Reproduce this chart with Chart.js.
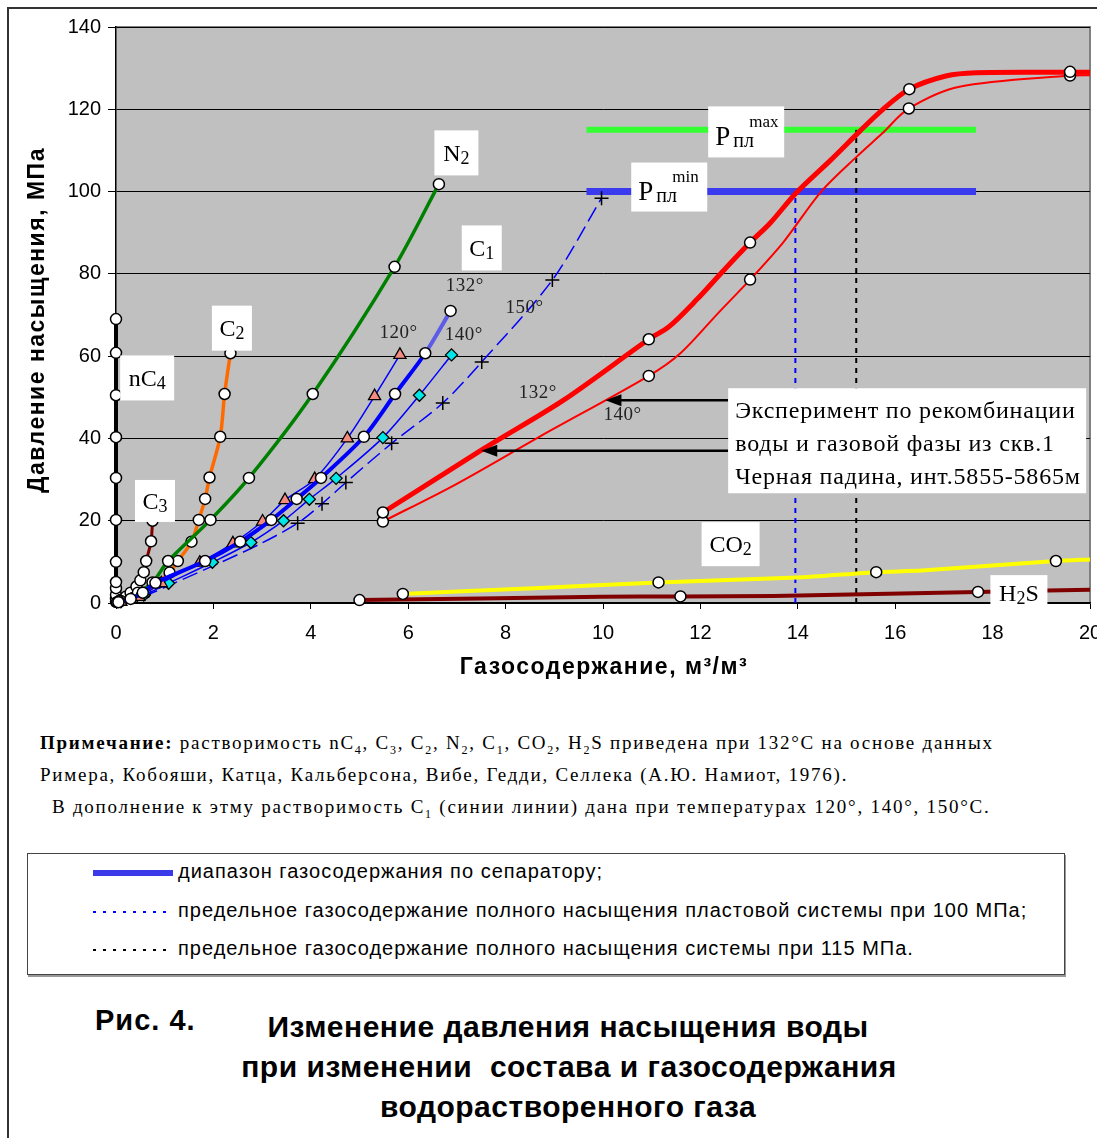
<!DOCTYPE html>
<html lang="ru">
<head>
<meta charset="utf-8">
<script src="https://cdn.jsdelivr.net/npm/chart.js@4.4.1/dist/chart.umd.min.js"></script>
<style>
  body { margin: 0; background: #fff; width: 1097px; height: 1138px; overflow: hidden; position: relative; }
  #frame { position: absolute; left: 7px; top: 7px; width: 1200px; height: 1200px; border-left: 2px solid #333; border-top: 2px solid #333; }
  #chart { position: absolute; left: 0; top: 0; }
  .note { position: absolute; font-family: "Liberation Serif", serif; font-size: 19px; letter-spacing: 1.75px; white-space: nowrap; color: #000; }
  .note sub { font-size: 12px; }
  #legend { position: absolute; left: 27px; top: 853px; width: 1036px; height: 120px; border: 1px solid #444; box-shadow: 1px 2px 0 #999; background: #fff; }
  .lg { position: absolute; left: 150px; font-family: "Liberation Sans", Arial, sans-serif; font-size: 20px; letter-spacing: 1px; white-space: nowrap; }
  .sw { position: absolute; left: 65px; width: 80px; }
  .dots { height: 2px; }
  .ttl { position: absolute; font-family: "Liberation Sans", Arial, sans-serif; font-weight: bold; font-size: 30px; letter-spacing: 0.5px; white-space: nowrap; }
</style>
</head>
<body>
<div id="frame"></div>
<canvas id="chart" width="1120" height="700"></canvas>

<div class="note" style="left:40px; top:732px;"><b>Примечание:</b> растворимость nC<sub>4</sub>, C<sub>3</sub>, C<sub>2</sub>, N<sub>2</sub>, C<sub>1</sub>, CO<sub>2</sub>, H<sub>2</sub>S приведена при 132°С на основе данных</div>
<div class="note" style="left:40px; top:764px;">Римера, Кобояши, Катца, Кальберсона, Вибе, Гедди, Селлека (А.Ю. Намиот, 1976).</div>
<div class="note" style="left:52px; top:796px;">В дополнение к этму растворимость C<sub>1</sub> (синии линии) дана при температурах 120°, 140°, 150°С.</div>

<div id="legend">
  <div class="sw" style="top:16px; height:6px; background:#3a3ae8;"></div>
  <div class="lg" style="top:6px;">диапазон газосодержания по сепаратору;</div>
  <div class="sw dots" style="top:57px; background:repeating-linear-gradient(to right, #0000ff 0 3px, transparent 3px 10px);"></div>
  <div class="lg" style="top:45px;">предельное газосодержание полного насыщения пластовой системы при 100 МПа;</div>
  <div class="sw dots" style="top:95px; background:repeating-linear-gradient(to right, #000 0 3px, transparent 3px 10px);"></div>
  <div class="lg" style="top:83px;">предельное газосодержание полного насыщения системы при 115 МПа.</div>
</div>

<div class="ttl" style="left:95px; top:1004px; font-size:29px; letter-spacing:1px;">Рис. 4.</div>
<div class="ttl" style="left:0; width:1136px; text-align:center; top:1010px;">Изменение давления насыщения воды</div>
<div class="ttl" style="left:0; width:1138px; text-align:center; top:1050px;">при изменении&nbsp; состава и газосодержания</div>
<div class="ttl" style="left:0; width:1136px; text-align:center; top:1090px;">водорастворенного газа</div>

<script>
// оси
const xTickStep = 2, yTickStep = 20;

// nC4
const nc4X = [0, 0, 0, 0, 0, 0, 0, 0, 0, 0, 0, 0];
const nc4Y = [0.3, 1, 2, 3.6, 5.1, 10, 20.2, 30.4, 40.3, 50.5, 60.8, 69];
// C3
const c3X = [0.02, 0.1, 0.2, 0.3, 0.42, 0.5, 0.57, 0.62, 0.72, 0.75];
const c3Y = [0.2, 0.8, 1.5, 2.5, 4, 5.5, 7.5, 10.2, 15, 20];
// C2
const c2X = [0.05, 0.35, 0.6, 0.86, 1.1, 1.27, 1.55, 1.70, 1.83, 1.92, 2.14, 2.23, 2.35];
const c2Y = [0.3, 1.2, 2.5, 4.9, 7.4, 10.2, 14.9, 20.2, 25.3, 30.5, 40.4, 50.8, 60.7];
// N2
const n2X = [0.1, 0.45, 0.75, 1.07, 1.94, 2.73, 4.04, 5.72, 6.63];
const n2Y = [0.5, 2.5, 5, 10.2, 20.2, 30.4, 50.8, 81.7, 101.8];
// C1 при 132, 120, 140, 150 °C
const c1t132X = [0.05, 0.3, 0.55, 0.81, 1.83, 2.55, 3.19, 3.71, 4.21, 5.09, 5.73, 6.35, 6.87];
const c1t132Y = [0.2, 1, 2.5, 4.9, 10.2, 14.9, 20.2, 25.3, 30.4, 40.4, 50.8, 60.7, 71];
const c1t120X = [0.1, 0.47, 0.93, 1.72, 2.40, 3.01, 3.47, 4.08, 4.75, 5.31, 5.83];
const c1t120Y = [0.3, 1.5, 4.8, 9.8, 14.5, 19.8, 25, 30.1, 40, 50.3, 60.3];
const c1t140X = [0.1, 0.57, 1.08, 1.98, 2.77, 3.44, 3.97, 4.52, 5.48, 6.23, 6.89];
const c1t140Y = [0.3, 1.9, 4.8, 9.9, 14.7, 20, 25.2, 30.3, 40.2, 50.5, 60.3];
const c1t150X = [0.1, 0.6, 1.15, 2.1, 2.95, 3.73, 4.23, 4.72, 5.66, 6.71, 7.51, 8.96, 9.97];
const c1t150Y = [0.3, 1.8, 4.6, 9.6, 14.3, 19.4, 24.1, 29.3, 38.8, 48.6, 58.6, 78.5, 98.4];
// эксперимент, 132 и 140 °C
const exp132X = [5.48, 7.55, 9.19, 10.94, 11.35, 11.93, 12.42, 13.02, 13.43, 13.96, 14.68, 15.26, 15.73, 16.29, 17.04, 17.66, 19.59, 20];
const exp132Y = [22.0, 37.5, 49.3, 64.1, 67.1, 73.8, 80.1, 87.6, 92.3, 99.6, 107.7, 114.5, 119.8, 124.9, 128.1, 128.9, 129.0, 129.0];
const exp132MarkX = [5.48, 10.94, 13.02, 16.29, 19.59];
const exp132MarkY = [22.0, 64.1, 87.6, 124.9, 129.1];
const exp140X = [5.48, 6.97, 8.71, 10.94, 11.59, 12.36, 13.02, 13.71, 14.48, 15.21, 15.73, 16.28, 17.32, 19.59, 20];
const exp140Y = [19.8, 28.8, 40.5, 55.2, 60.7, 70.4, 78.6, 87.8, 100, 108.5, 114.1, 120.2, 125.5, 128.2, 128.3];
const exp140MarkX = [5.48, 10.94, 13.02, 16.28, 19.59];
const exp140MarkY = [19.8, 55.2, 78.6, 120.2, 128.2];
// CO2, H2S
const co2X = [5.89, 8.58, 11.14, 13.99, 15.61, 16.55, 19.3, 20];
const co2Y = [2.2, 3.6, 5.0, 6.2, 7.5, 7.9, 10.2, 10.6];
const co2MarkX = [5.89, 11.14, 15.61, 19.3];
const co2MarkY = [2.2, 5.0, 7.5, 10.2];
const h2sX = [5.0, 9.96, 11.59, 13.5, 17.7, 20];
const h2sY = [0.7, 1.5, 1.6, 1.7, 2.7, 3.2];
const h2sMarkX = [5.0, 11.59, 17.7];
const h2sMarkY = [0.7, 1.6, 2.7];
// пластовое давление и пределы газосодержания
const pMaxX = [9.66, 17.66], pMaxY = [115, 115];
const pMinX = [9.66, 17.66], pMinY = [100, 100];
const lim100X = [13.95, 13.95], lim100Y = [0, 100];
const lim115X = [15.2, 15.2], lim115Y = [0, 115];

function pts(xs, ys) { return xs.map((x, i) => ({ x: x, y: ys[i] })); }

const circle = { pointStyle: 'circle', pointRadius: 5.5, pointBackgroundColor: '#fff', pointBorderColor: '#000', pointBorderWidth: 1.5 };
const noPts = { pointRadius: 0, pointHoverRadius: 0 };

// подписи
const chemLabels = [
  { x: 6.99, y: 109.4, w: 44, h: 45, parts: [['N', 0], ['2', 1]] },
  { x: 7.51, y: 86.3, w: 40, h: 45, parts: [['C', 0], ['1', 1]] },
  { x: 2.38, y: 66.8, w: 40, h: 45, parts: [['C', 0], ['2', 1]] },
  { x: 0.64, y: 54.7, w: 54, h: 45, parts: [['nC', 0], ['4', 1]] },
  { x: 0.80, y: 24.8, w: 40, h: 42, parts: [['C', 0], ['3', 1]] },
  { x: 12.62, y: 14.3, w: 58, h: 44, parts: [['CO', 0], ['2', 1]] },
  { x: 18.54, y: 2.4, w: 57, h: 36, parts: [['H', 0], ['2', 1], ['S', 0]] }
];
const tempLabels = [
  { x: 7.16, y: 77.0, t: '132°' },
  { x: 5.80, y: 65.6, t: '120°' },
  { x: 7.14, y: 65.1, t: '140°' },
  { x: 8.39, y: 71.7, t: '150°' },
  { x: 8.66, y: 51.0, t: '132°' },
  { x: 10.40, y: 45.7, t: '140°' }
];
const expText = ['Эксперимент по рекомбинации', 'воды и газовой фазы из скв.1', 'Черная падина, инт.5855-5865м'];

function drawChem(ctx, parts, cx, cy) {
  const big = '24px "Liberation Serif", serif', small = '18px "Liberation Serif", serif';
  let w = 0;
  parts.forEach(([t, s]) => { ctx.font = s ? small : big; w += ctx.measureText(t).width; });
  let x = cx - w / 2;
  ctx.textAlign = 'left';
  ctx.textBaseline = 'alphabetic';
  parts.forEach(([t, s]) => {
    ctx.font = s ? small : big;
    ctx.fillText(t, x, cy + 8 + (s ? 3 : 0));
    x += ctx.measureText(t).width;
  });
}

function arrow(ctx, x1, x2, y) {
  ctx.strokeStyle = '#000';
  ctx.fillStyle = '#000';
  ctx.lineWidth = 2.5;
  ctx.beginPath();
  ctx.moveTo(x1, y);
  ctx.lineTo(x2 + 12, y);
  ctx.stroke();
  ctx.beginPath();
  ctx.moveTo(x2, y);
  ctx.lineTo(x2 + 16, y - 6);
  ctx.lineTo(x2 + 16, y + 6);
  ctx.closePath();
  ctx.fill();
}

const decor = {
  id: 'decor',
  beforeDraw(chart) {
    const { ctx, chartArea: a } = chart;
    ctx.save();
    ctx.fillStyle = '#c0c0c0';
    ctx.fillRect(a.left, a.top, a.right - a.left, a.bottom - a.top);
    ctx.strokeStyle = '#808080';
    ctx.lineWidth = 2;
    ctx.beginPath();
    ctx.moveTo(a.left, a.top);
    ctx.lineTo(a.right, a.top);
    ctx.lineTo(a.right, a.bottom);
    ctx.stroke();
    ctx.restore();
  },
  afterDatasetsDraw(chart) {
    const { ctx, scales: { x, y } } = chart;
    ctx.save();
    ctx.fillStyle = '#000';
    // стрелки к экспериментальным кривым
    const bx = x.getPixelForValue(12.57);
    arrow(ctx, bx, x.getPixelForValue(10.05), y.getPixelForValue(49.3));
    arrow(ctx, bx, x.getPixelForValue(7.5), y.getPixelForValue(37.0));
    // подписи веществ
    chemLabels.forEach(l => {
      const cx = x.getPixelForValue(l.x), cy = y.getPixelForValue(l.y);
      ctx.fillStyle = '#fff';
      ctx.fillRect(cx - l.w / 2, cy - l.h / 2, l.w, l.h);
      ctx.fillStyle = '#000';
      drawChem(ctx, l.parts, cx, cy);
    });
    // температуры
    ctx.font = '19px "Liberation Serif", serif';
    ctx.letterSpacing = '0.5px';
    ctx.fillStyle = '#222';
    ctx.textAlign = 'center';
    ctx.textBaseline = 'middle';
    tempLabels.forEach(l => ctx.fillText(l.t, x.getPixelForValue(l.x), y.getPixelForValue(l.y)));
    ctx.letterSpacing = '0px';
    // Pпл max / min
    [[12.94, 114.5, 76, 51, 'max'], [11.36, 101.1, 76, 49, 'min']].forEach(([vx, vy, w, h, sup]) => {
      const cx = x.getPixelForValue(vx), cy = y.getPixelForValue(vy);
      ctx.fillStyle = '#fff';
      ctx.fillRect(cx - w / 2, cy - h / 2, w, h);
      ctx.fillStyle = '#000';
      ctx.textAlign = 'left';
      ctx.textBaseline = 'alphabetic';
      ctx.font = '27px "Liberation Serif", serif';
      ctx.fillText('P', cx - 31, cy + 13);
      ctx.font = '20px "Liberation Serif", serif';
      ctx.fillText('пл', cx - 13, cy + 15);
      ctx.font = '17px "Liberation Serif", serif';
      ctx.fillText(sup, cx + 3, cy - 5);
    });
    // текст эксперимента
    const tl = x.getPixelForValue(12.57), tt = y.getPixelForValue(52.2);
    ctx.fillStyle = '#fff';
    ctx.fillRect(tl, tt, 358, 105);
    ctx.fillStyle = '#000';
    ctx.font = '24px "Liberation Serif", serif';
    ctx.letterSpacing = '0.8px';
    ctx.textAlign = 'left';
    ctx.textBaseline = 'alphabetic';
    expText.forEach((s, i) => ctx.fillText(s, tl + 7, tt + 30 + i * 33));
    ctx.restore();
  },
  afterDraw(chart) {
    const { ctx, chartArea: a } = chart;
    ctx.save();
    ctx.fillStyle = '#000';
    ctx.font = 'bold 23px "Liberation Sans", Arial, sans-serif';
    ctx.letterSpacing = '1.5px';
    ctx.textAlign = 'center';
    ctx.textBaseline = 'middle';
    ctx.fillText('Газосодержание, м³/м³', 604, 668);
    ctx.translate(38, (a.top + a.bottom) / 2 + 5);
    ctx.rotate(-Math.PI / 2);
    ctx.fillText('Давление насыщения, МПа', 0, 0);
    ctx.restore();
  }
};

const thinBlue = { borderColor: '#0000ff', borderWidth: 1.5, tension: 0.3, showLine: true, clip: false };

new Chart(document.getElementById('chart'), {
  type: 'scatter',
  data: {
    datasets: [
      { data: pts(c1t132X, c1t132Y), borderColor: '#0000ff', borderWidth: 4, tension: 0.3, showLine: true, clip: false, ...circle,
        segment: { borderColor: c => c.p1DataIndex === c1t132X.length - 1 ? '#5c5ce8' : undefined } },
      { data: pts(c1t120X, c1t120Y), ...thinBlue, pointStyle: 'triangle', pointRadius: 7, pointBackgroundColor: '#f58a80', pointBorderColor: '#000', pointBorderWidth: 1.3 },
      { data: pts(c1t140X, c1t140Y), ...thinBlue, pointStyle: 'rectRot', pointRadius: 6, pointBackgroundColor: '#00e5e5', pointBorderColor: '#000', pointBorderWidth: 1.3 },
      { data: pts(c1t150X, c1t150Y), ...thinBlue, borderDash: [16, 6], pointStyle: 'cross', pointRadius: c1t150Y.map(v => v > 19 ? 7 : 0), pointBorderColor: '#000', pointBorderWidth: 1.5 },
      { data: pts(n2X, n2Y), borderColor: '#008000', borderWidth: 3.5, tension: 0.3, showLine: true, clip: false, ...circle },
      { data: pts(c2X, c2Y), borderColor: '#ff6a00', borderWidth: 3.5, tension: 0.3, showLine: true, clip: false, ...circle },
      { data: pts(c3X, c3Y), borderColor: '#800000', borderWidth: 3, tension: 0.3, showLine: true, clip: false, ...circle },
      { data: pts(nc4X, nc4Y), borderColor: '#000', borderWidth: 4, showLine: true, clip: false, ...circle },
      { data: pts(exp132MarkX, exp132MarkY), showLine: false, clip: false, ...circle },
      { data: pts(exp140MarkX, exp140MarkY), showLine: false, clip: false, ...circle },
      { data: pts(exp132X, exp132Y), borderColor: '#ff0000', borderWidth: 5, tension: 0.3, showLine: true, clip: false, ...noPts },
      { data: pts(exp140X, exp140Y), borderColor: '#ff0000', borderWidth: 2, tension: 0.3, showLine: true, clip: false, ...noPts },
      { data: pts(co2MarkX, co2MarkY), showLine: false, clip: false, ...circle },
      { data: pts(h2sMarkX, h2sMarkY), showLine: false, clip: false, ...circle },
      { data: pts(co2X, co2Y), borderColor: '#ffff00', borderWidth: 4, tension: 0.2, showLine: true, clip: false, ...noPts },
      { data: pts(h2sX, h2sY), borderColor: '#800000', borderWidth: 4, tension: 0.2, showLine: true, clip: false, ...noPts },
      { data: pts(lim115X, lim115Y), borderColor: '#000', borderWidth: 2, borderDash: [5, 5], showLine: true, ...noPts },
      { data: pts(lim100X, lim100Y), borderColor: '#0000ff', borderWidth: 2, borderDash: [5, 5], showLine: true, ...noPts },
      { data: pts(pMaxX, pMaxY), borderColor: '#33ff33', borderWidth: 6, showLine: true, ...noPts },
      { data: pts(pMinX, pMinY), borderColor: '#3a3aef', borderWidth: 7, showLine: true, ...noPts }
    ]
  },
  options: {
    responsive: false,
    animation: false,
    events: [],
    layout: { padding: { left: 0, top: 27, right: 30, bottom: 0 } },
    plugins: { legend: { display: false }, tooltip: { enabled: false } },
    scales: {
      x: {
        type: 'linear', min: 0, max: 20,
        afterFit: s => { s.height = 97; },
        ticks: { stepSize: xTickStep, color: '#000', padding: 12, font: { family: '"Liberation Sans", Arial, sans-serif', size: 20 } },
        grid: { drawOnChartArea: false, drawTicks: true, tickLength: 6, tickColor: '#000' },
        border: { color: '#000', width: 1.5 }
      },
      y: {
        type: 'linear', min: 0, max: 140,
        afterFit: s => { s.width = 116; },
        ticks: { stepSize: yTickStep, color: '#000', padding: 7, font: { family: '"Liberation Sans", Arial, sans-serif', size: 20 } },
        grid: { color: '#000', lineWidth: 1, drawTicks: true, tickLength: 8, tickColor: '#000' },
        border: { color: '#000', width: 1.5 }
      }
    }
  },
  plugins: [decor]
});
</script>
</body>
</html>
